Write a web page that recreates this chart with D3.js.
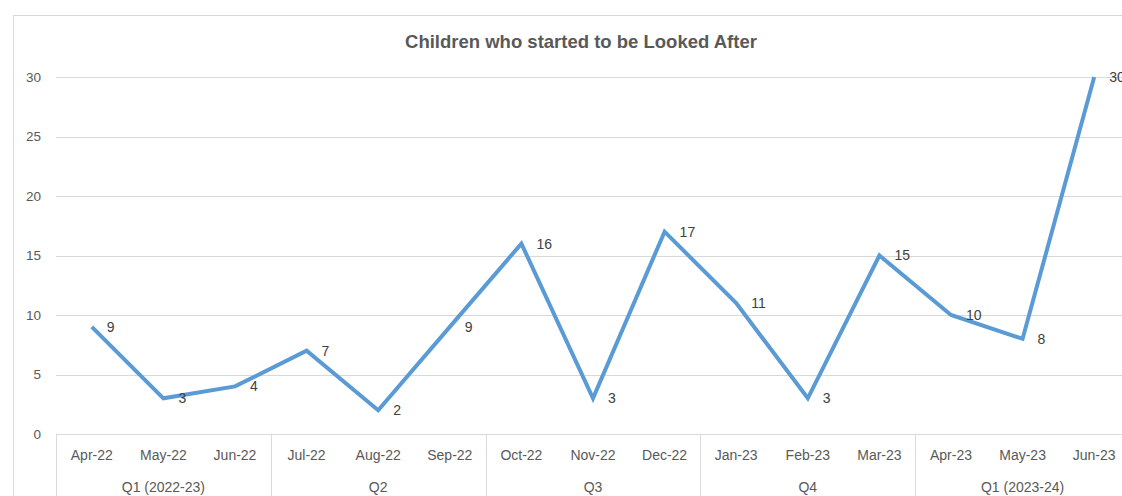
<!DOCTYPE html>
<html>
<head>
<meta charset="utf-8">
<script src="https://cdn.jsdelivr.net/npm/d3@7"></script>
<style>
  body { margin: 0; background: #fff; }
  svg { display: block; font-family: "Liberation Sans", Arial, sans-serif; }
</style>
</head>
<body>
<svg id="chart"></svg>
<script>
var months = ["Apr-22","May-22","Jun-22","Jul-22","Aug-22","Sep-22","Oct-22","Nov-22","Dec-22",
              "Jan-23","Feb-23","Mar-23","Apr-23","May-23","Jun-23"];
var quarters = ["Q1 (2022-23)","Q2","Q3","Q4","Q1 (2023-24)"];
var counts = [9, 3, 4, 7, 2, 9, 16, 3, 17, 11, 3, 15, 10, 8, 30];
var yTicks = [0, 5, 10, 15, 20, 25, 30];

var width = 1122, height = 496;
var svg = d3.select("#chart").attr("width", width).attr("height", height);

// chart area border (runs off the right edge like the screenshot)
svg.append("rect")
    .attr("x", 13.5).attr("y", 15.5)
    .attr("width", 1200).attr("height", 600)
    .attr("fill", "#fff").attr("stroke", "#d9d9d9");

var x0 = 56, step = 71.6;
var x = d3.scaleBand()
    .domain(months)
    .range([x0, x0 + step * months.length]);
var y = d3.scaleLinear().domain([0, 30]).range([434, 77]);

// gridlines
svg.append("g").selectAll("line")
    .data(yTicks.filter(function(d) { return d > 0; }))
    .enter().append("line")
    .attr("x1", x0).attr("x2", width)
    .attr("y1", function(d) { return Math.round(y(d)) + 0.5; })
    .attr("y2", function(d) { return Math.round(y(d)) + 0.5; })
    .attr("stroke", "#d9d9d9");

// y labels
svg.append("g").selectAll("text")
    .data(yTicks)
    .enter().append("text")
    .attr("x", 41).attr("y", function(d) { return y(d); })
    .attr("dy", "0.35em")
    .attr("text-anchor", "end")
    .attr("fill", "#595959").attr("font-size", 13.5)
    .text(function(d) { return d; });

// category axis box
var axis = svg.append("g");
axis.append("line")
    .attr("x1", x0).attr("x2", width)
    .attr("y1", 434.5).attr("y2", 434.5)
    .attr("stroke", "#d9d9d9");
var seps = d3.range(0, quarters.length).map(function(i) { return x0 + i * 3 * step; });
axis.selectAll("line.sep")
    .data(seps)
    .enter().append("line").attr("class", "sep")
    .attr("x1", function(d) { return Math.round(d) + 0.5; })
    .attr("x2", function(d) { return Math.round(d) + 0.5; })
    .attr("y1", 434).attr("y2", height)
    .attr("stroke", "#d9d9d9");

axis.selectAll("text.month")
    .data(months)
    .enter().append("text").attr("class", "month")
    .attr("x", function(d) { return x(d) + x.bandwidth() / 2; })
    .attr("y", 460)
    .attr("text-anchor", "middle")
    .attr("fill", "#595959").attr("font-size", 14)
    .text(function(d) { return d; });

axis.selectAll("text.quarter")
    .data(quarters)
    .enter().append("text").attr("class", "quarter")
    .attr("x", function(d, i) { return x0 + (i * 3 + 1.5) * step; })
    .attr("y", 492)
    .attr("text-anchor", "middle")
    .attr("fill", "#595959").attr("font-size", 14)
    .text(function(d) { return d; });

// title
svg.append("text")
    .attr("x", 581).attr("y", 48)
    .attr("text-anchor", "middle")
    .attr("font-weight", "bold").attr("font-size", 18.5)
    .attr("fill", "#595959")
    .text("Children who started to be Looked After");

// line
var line = d3.line()
    .x(function(d, i) { return x(months[i]) + x.bandwidth() / 2; })
    .y(function(d) { return y(d); });

svg.append("path")
    .datum(counts)
    .attr("d", line)
    .attr("fill", "none")
    .attr("stroke", "#5b9bd5")
    .attr("stroke-width", 4)
    .attr("stroke-linejoin", "miter");

// data labels
svg.append("g").selectAll("text")
    .data(counts)
    .enter().append("text")
    .attr("x", function(d, i) { return x(months[i]) + x.bandwidth() / 2 + 15; })
    .attr("y", function(d) { return y(d); })
    .attr("dy", "0.35em")
    .attr("fill", "#404040").attr("font-size", 14)
    .text(function(d) { return d; });
</script>
</body>
</html>
